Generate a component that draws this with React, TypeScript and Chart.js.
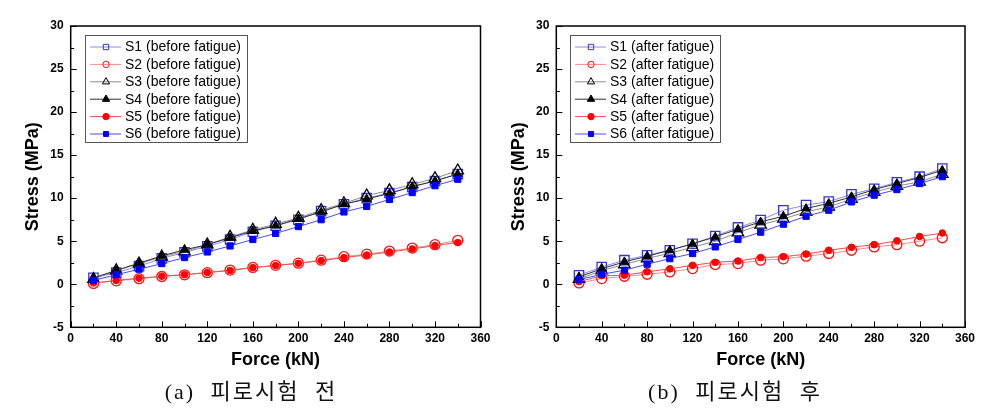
import React, { useEffect, useRef } from "react";
import { Chart, registerables } from "chart.js";

Chart.register(...registerables);

// ---------- data ----------
const forces = [20, 40, 60, 80, 100, 120, 140, 160, 180, 200, 220, 240, 260, 280, 300, 320, 340];

const beforeLabels = [
  "S1 (before fatigue)",
  "S2 (before fatigue)",
  "S3 (before fatigue)",
  "S4 (before fatigue)",
  "S5 (before fatigue)",
  "S6 (before fatigue)",
];
const afterLabels = [
  "S1 (after fatigue)",
  "S2 (after fatigue)",
  "S3 (after fatigue)",
  "S4 (after fatigue)",
  "S5 (after fatigue)",
  "S6 (after fatigue)",
];

const beforeS1 = [0.75, 1.35, 2.1, 3.0, 3.7, 4.4, 5.2, 6.1, 6.8, 7.5, 8.5, 9.3, 10.0, 10.6, 11.3, 12.0, 12.8];
const beforeS2 = [0.1, 0.4, 0.65, 0.9, 1.1, 1.35, 1.65, 1.95, 2.2, 2.45, 2.8, 3.2, 3.5, 3.85, 4.2, 4.6, 5.1];
const beforeS3 = [0.6, 1.6, 2.4, 3.2, 3.8, 4.6, 5.5, 6.3, 7.0, 7.7, 8.6, 9.4, 10.3, 10.9, 11.6, 12.3, 13.2];
const beforeS4 = [0.75, 1.6, 2.45, 3.3, 4.0, 4.6, 5.4, 6.2, 6.8, 7.6, 8.4, 9.3, 9.9, 10.55, 11.35, 12.0, 12.8];
const beforeS5 = [0.15, 0.45, 0.7, 0.93, 1.12, 1.36, 1.6, 1.93, 2.17, 2.43, 2.75, 3.1, 3.4, 3.75, 4.1, 4.5, 4.85];
const beforeS6 = [0.45, 1.1, 1.75, 2.4, 3.1, 3.75, 4.45, 5.2, 5.9, 6.7, 7.5, 8.4, 9.05, 9.85, 10.65, 11.45, 12.2];

const afterS1 = [1.05, 2.0, 2.8, 3.37, 3.95, 4.7, 5.6, 6.6, 7.45, 8.6, 9.2, 9.6, 10.45, 11.1, 11.85, 12.5, 13.45];
const afterS2 = [0.15, 0.66, 0.93, 1.16, 1.43, 1.82, 2.29, 2.4, 2.8, 2.95, 3.26, 3.57, 3.95, 4.34, 4.6, 5.0, 5.4];
const afterS3 = [0.6, 1.6, 2.3, 3.0, 3.6, 4.3, 5.0, 6.0, 6.9, 7.6, 8.4, 9.0, 9.9, 10.7, 11.4, 11.9, 12.8];
const afterS4 = [0.85, 1.8, 2.6, 3.25, 3.95, 4.7, 5.5, 6.4, 7.25, 7.9, 8.8, 9.4, 10.15, 11.0, 11.7, 12.4, 13.25];
const afterS5 = [0.3, 1.0, 1.05, 1.45, 1.8, 2.2, 2.55, 2.7, 3.1, 3.2, 3.5, 3.95, 4.3, 4.6, 5.05, 5.55, 5.95];
const afterS6 = [0.54, 1.16, 1.63, 2.33, 2.98, 3.57, 4.34, 5.2, 6.05, 6.98, 7.9, 8.6, 9.57, 10.35, 11.0, 11.7, 12.5];

const xMin = 0, xMax = 360, xStep = 40, xMinor = 20;
const yMin = -5, yMax = 30, yStep = 5, yMinor = 2.5;

// ---------- styles ----------
const FONT = "'Liberation Sans', Arial, sans-serif";

const seriesStyles = [
  { line: "#8a8aff", pointStyle: "rect", radius: 6.6, fill: "rgba(0,0,0,0)", stroke: "#3535c8", bw: 1.3, lr: 3.8 },
  { line: "#ff8a8a", pointStyle: "circle", radius: 5, fill: "rgba(0,0,0,0)", stroke: "#ff1010", bw: 1.3, lr: 3.2 },
  { line: "#8c8c8c", pointStyle: "triangle", radius: 6.6, fill: "rgba(0,0,0,0)", stroke: "#000000", bw: 1.3, lr: 4.2 },
  { line: "#303030", pointStyle: "triangle", radius: 4.8, fill: "#000000", stroke: "#000000", bw: 1, lr: 4.2 },
  { line: "#ff4a4a", pointStyle: "circle", radius: 3.3, fill: "#ff0000", stroke: "#ff0000", bw: 1, lr: 3.2 },
  { line: "#4a4aff", pointStyle: "rect", radius: 4.4, fill: "#0000ff", stroke: "#0000ff", bw: 1, lr: 3.5 },
];

function makeDatasets(labels: string[], series: number[][]) {
  return series.map((vals, i) => {
    const st = seriesStyles[i];
    return {
      label: labels[i],
      data: forces.map((f, j) => ({ x: f, y: vals[j] })),
      borderColor: st.line,
      borderWidth: 1,
      backgroundColor: st.fill,
      pointStyle: st.pointStyle,
      pointRadius: st.radius,
      pointBackgroundColor: st.fill,
      pointBorderColor: st.stroke,
      pointBorderWidth: st.bw,
      fill: false,
      tension: 0,
      order: 6 - i,
      legendRadius: st.lr,
    };
  });
}

function drawMarker(ctx: CanvasRenderingContext2D, style: string, x: number, y: number, r: number, fill: string, stroke: string, bw: number) {
  ctx.beginPath();
  if (style === "rect") {
    const s = Math.SQRT1_2 * r;
    ctx.rect(x - s, y - s, 2 * s, 2 * s);
  } else if (style === "triangle") {
    let a = 0;
    ctx.moveTo(x + Math.sin(a) * r, y - Math.cos(a) * r);
    a += (2 * Math.PI) / 3;
    ctx.lineTo(x + Math.sin(a) * r, y - Math.cos(a) * r);
    a += (2 * Math.PI) / 3;
    ctx.lineTo(x + Math.sin(a) * r, y - Math.cos(a) * r);
    ctx.closePath();
  } else {
    ctx.arc(x, y, r, 0, Math.PI * 2);
  }
  ctx.fillStyle = fill;
  ctx.fill();
  ctx.lineWidth = bw;
  ctx.strokeStyle = stroke;
  ctx.stroke();
}

const frameTicksPlugin = {
  id: "frameTicks",
  afterDraw(chart: any) {
    const { ctx, chartArea: a, scales } = chart;
    const xs = scales.x, ys = scales.y;
    ctx.save();
    ctx.strokeStyle = "#000";
    ctx.lineWidth = 1;
    ctx.beginPath();
    for (let v = xMin; v <= xMax; v += xMinor) {
      const px = Math.round(xs.getPixelForValue(v)) + 0.5;
      const len = v % xStep === 0 ? 6 : 3.5;
      ctx.moveTo(px, a.bottom);
      ctx.lineTo(px, a.bottom - len);
    }
    for (let v = yMin; v <= yMax; v += yMinor) {
      const py = Math.round(ys.getPixelForValue(v)) + 0.5;
      const len = Math.abs(v % yStep) < 1e-6 ? 6 : 3.5;
      ctx.moveTo(a.left, py);
      ctx.lineTo(a.left + len, py);
    }
    ctx.stroke();
    ctx.lineWidth = 1.5;
    ctx.strokeRect(a.left, a.top, a.right - a.left, a.bottom - a.top);
    ctx.restore();
  },
};

const boxLegendPlugin = {
  id: "boxLegend",
  afterDraw(chart: any, _args: any, opts: any) {
    const { ctx } = chart;
    const { x, y, w, h, rowH, firstRow } = opts;
    ctx.save();
    ctx.fillStyle = "#fff";
    ctx.fillRect(x, y, w, h);
    ctx.strokeStyle = "#555";
    ctx.lineWidth = 1;
    ctx.strokeRect(x + 0.5, y + 0.5, w, h);
    ctx.font = `14px ${FONT}`;
    ctx.textBaseline = "middle";
    ctx.textAlign = "left";
    chart.data.datasets.forEach((ds: any, i: number) => {
      const cy = y + firstRow + i * rowH;
      ctx.beginPath();
      ctx.strokeStyle = ds.borderColor;
      ctx.lineWidth = 1;
      ctx.moveTo(x + 5, cy + 0.5);
      ctx.lineTo(x + 36, cy + 0.5);
      ctx.stroke();
      drawMarker(ctx, ds.pointStyle, x + 21, cy + 0.5, ds.legendRadius, ds.pointBackgroundColor, ds.pointBorderColor, 1);
      ctx.fillStyle = "#000";
      ctx.fillText(ds.label, x + 40, cy + 1);
    });
    ctx.restore();
  },
};

type PanelProps = {
  labels: string[];
  series: number[][];
  width: number;
  height: number;
  padRight: number;
  yWidth: number;
  yTitlePad: number;
  legend: { x: number; y: number; w: number; h: number; rowH: number; firstRow: number };
};

function Panel(props: PanelProps) {
  const ref = useRef<HTMLCanvasElement | null>(null);
  useEffect(() => {
    if (!ref.current) return;
    const tickFont = { family: FONT, size: 12, weight: "bold" as const };
    const titleFont = { family: FONT, size: 18, weight: "bold" as const };
    const chart = new Chart(ref.current, {
      type: "line",
      data: { datasets: makeDatasets(props.labels, props.series) as any },
      options: {
        responsive: false,
        animation: false,
        devicePixelRatio: 1,
        layout: { padding: { left: 0, top: 26, right: props.padRight, bottom: props.height - 327.3 - 50 } },
        plugins: {
          legend: { display: false },
          tooltip: { enabled: false },
          boxLegend: props.legend,
        } as any,
        scales: {
          x: {
            type: "linear",
            min: xMin,
            max: xMax,
            ticks: { stepSize: xStep, font: tickFont, color: "#000", padding: 4, maxRotation: 0 },
            grid: { display: false, drawTicks: false },
            border: { display: false },
            title: { display: true, text: "Force (kN)", font: titleFont, color: "#000", padding: { top: 0, bottom: 6 } },
            afterFit: (s: any) => {
              s.height = 50;
              s.paddingLeft = 0;
              s.paddingRight = 0;
            },
          },
          y: {
            type: "linear",
            min: yMin,
            max: yMax,
            ticks: { stepSize: yStep, font: tickFont, color: "#000", padding: 7 },
            grid: { display: false, drawTicks: false },
            border: { display: false },
            title: { display: true, text: "Stress (MPa)", font: titleFont, color: "#000", padding: { top: props.yTitlePad, bottom: 0 } },
            afterFit: (s: any) => {
              s.width = props.yWidth;
              s.paddingTop = 0;
              s.paddingBottom = 0;
            },
          },
        },
      } as any,
      plugins: [frameTicksPlugin, boxLegendPlugin],
    });
    return () => chart.destroy();
  }, []);
  return <canvas ref={ref} width={props.width} height={props.height} style={{ width: props.width, height: props.height, display: "block" }} />;
}

const captionStyle: React.CSSProperties = {
  position: "absolute",
  top: 378,
  height: 28,
  lineHeight: "28px",
  textAlign: "center",
  fontFamily: "'Liberation Serif', 'Noto Sans CJK KR', serif",
  fontSize: 22,
  letterSpacing: "2px",
  wordSpacing: "8px",
  color: "#111",
  whiteSpace: "pre",
};

export default function App() {
  return (
    <div style={{ position: "fixed", left: 0, top: 0, width: 987, height: 413, background: "#fff", overflow: "hidden" }}>
      <div style={{ position: "absolute", left: 0, top: 0 }}>
        <Panel
          labels={beforeLabels}
          series={[beforeS1, beforeS2, beforeS3, beforeS4, beforeS5, beforeS6]}
          width={490}
          height={413}
          padRight={9.5}
          yWidth={70.7}
          yTitlePad={22.2}
          legend={{ x: 85, y: 35, w: 162, h: 107, rowH: 17.4, firstRow: 11.5 }}
        />
      </div>
      <div style={{ position: "absolute", left: 490, top: 0 }}>
        <Panel
          labels={afterLabels}
          series={[afterS1, afterS2, afterS3, afterS4, afterS5, afterS6]}
          width={497}
          height={413}
          padRight={22}
          yWidth={66.3}
          yTitlePad={18}
          legend={{ x: 80, y: 35, w: 150, h: 107, rowH: 17.4, firstRow: 11.5 }}
        />
      </div>
      <div style={{ ...captionStyle, left: 151, width: 200 }}>(a) 피로시험 전</div>
      <div style={{ ...captionStyle, left: 635, width: 200 }}>(b) 피로시험 후</div>
    </div>
  );
}
